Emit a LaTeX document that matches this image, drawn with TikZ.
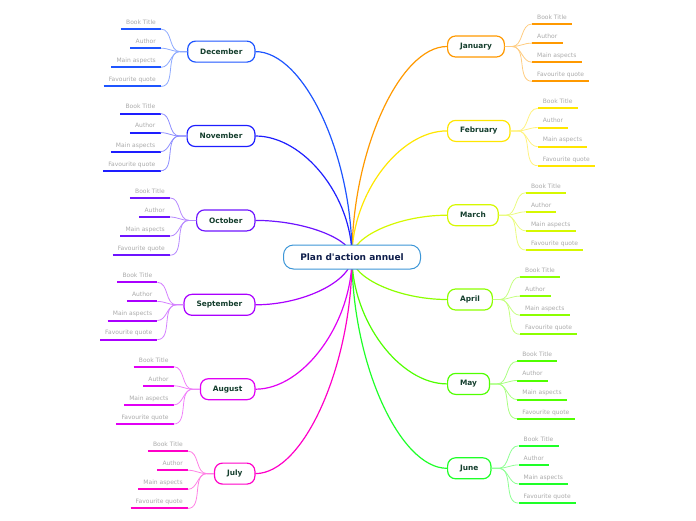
\documentclass[tikz,border=0pt]{standalone}
\usepackage{xcolor}
\usepackage{fontspec}
\setsansfont{DejaVu Sans}
\usepackage{tikz}
\usetikzlibrary{calc}

% Colores de cada mes
\definecolor{cEne}{RGB}{255,153,0}
\definecolor{cFeb}{RGB}{255,230,0}
\definecolor{cMar}{RGB}{214,248,0}
\definecolor{cAbr}{RGB}{140,255,0}
\definecolor{cMay}{RGB}{80,255,0}
\definecolor{cJun}{RGB}{30,255,40}
\definecolor{cJul}{RGB}{255,0,200}
\definecolor{cAgo}{RGB}{225,0,245}
\definecolor{cSep}{RGB}{170,0,255}
\definecolor{cOct}{RGB}{110,20,255}
\definecolor{cNov}{RGB}{30,30,255}
\definecolor{cDic}{RGB}{30,85,255}
\definecolor{textoMes}{RGB}{20,62,45}
\definecolor{textoCentro}{RGB}{15,30,75}
\definecolor{bordeCentro}{RGB}{60,150,215}
\definecolor{textoHoja}{RGB}{170,170,170}

\tikzset{
  centro/.style={draw=bordeCentro, line width=1pt, rounded corners=10pt, fill=white,
    minimum width=137pt, minimum height=24pt, text=textoCentro,
    font=\sffamily\bfseries\fontsize{9}{9}\selectfont},
  mes/.style={draw=#1, line width=1.2pt, rounded corners=8pt, fill=white,
    minimum height=21pt, inner xsep=12.5pt, text=textoMes,
    font=\sffamily\bfseries\fontsize{7.4}{7.4}\selectfont},
  rama/.style={draw=#1, line width=1.2pt},
  enlace/.style={draw=#1!50, line width=0.8pt},
  subrayado/.style={draw=#1, line width=2pt},
  hoja/.style={inner xsep=5pt, inner ysep=3pt, text height=4.5pt, text depth=1.5pt,
    text=textoHoja, font=\sffamily\fontsize{6}{6}\selectfont}
}

\begin{document}
\begin{tikzpicture}[x=1pt, y=-1pt]
    \useasboundingbox (0,0) rectangle (696,520);
    \coordinate (c) at (352,257); % Centro del mapa

    % Meses de la derecha
    \foreach \mes/\y/\col in {January/46.5/cEne, February/130.9/cFeb, March/215.2/cMar,
                              April/299.5/cAbr, May/383.9/cMay, June/468.3/cJun}{
        \node[mes=\col, anchor=west] (\mes) at (447,\y) {\mes};
        \draw[rama=\col] (c) .. controls ($(c)!0.5!(c |- \mes.west)$) and ($(\mes.west)!0.5!(c |- \mes.west)$) .. (\mes.west);
        \foreach \hoja [count=\i from 0] in {Book Title, Author, Main aspects, Favourite quote}{
            \node[hoja, anchor=south west] (\mes-\i) at ($(\mes.east)+(27,-22.5+19.1*\i)$) {\hoja};
            \draw[subrayado=\col] (\mes-\i.south west) -- (\mes-\i.south east);
            \draw[enlace=\col] (\mes.east) -- ++(7,0) to[out=0, in=180] (\mes-\i.south west);
        }
    }

    % Meses de la izquierda
    \foreach \mes/\y/\col in {December/51.6/cDic, November/136/cNov, October/220.4/cOct,
                              September/304.8/cSep, August/389.2/cAgo, July/473.6/cJul}{
        \node[mes=\col, anchor=east] (\mes) at (255.5,\y) {\mes};
        \draw[rama=\col] (c) .. controls ($(c)!0.5!(c |- \mes.east)$) and ($(\mes.east)!0.5!(c |- \mes.east)$) .. (\mes.east);
        \foreach \hoja [count=\i from 0] in {Book Title, Author, Main aspects, Favourite quote}{
            \node[hoja, anchor=south east] (\mes-\i) at ($(\mes.west)+(-26,-22.5+19.1*\i)$) {\hoja};
            \draw[subrayado=\col] (\mes-\i.south west) -- (\mes-\i.south east);
            \draw[enlace=\col] (\mes.west) -- ++(-7,0) to[out=180, in=0] (\mes-\i.south east);
        }
    }

    % Nodo central
    \node[centro] (plan) at (c) {Plan d\textquotesingle action annuel};
\end{tikzpicture}
\end{document}
